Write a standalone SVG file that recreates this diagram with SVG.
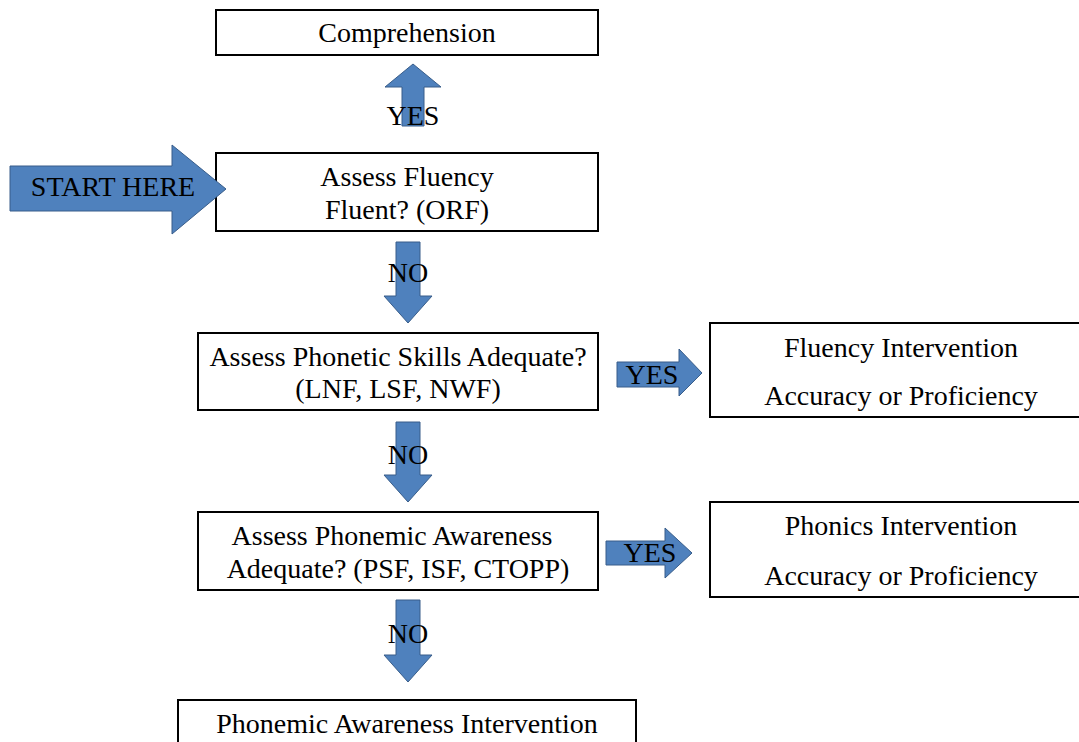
<svg xmlns="http://www.w3.org/2000/svg" width="1079" height="742" viewBox="0 0 1079 742">
<style>
.box{fill:#fff;stroke:#000;stroke-width:2}
.arr{fill:#4F81BD;stroke:#385D8A;stroke-width:1}
text{font-family:"Liberation Serif","Times New Roman",serif;font-size:28px;fill:#000;text-anchor:middle}
</style>
<rect width="1079" height="742" fill="#fff"/>
<g id="comprehension">
<rect class="box" x="216" y="10" width="382" height="45"/>
<text x="407" y="42">Comprehension</text>
</g>
<g id="assess-fluency">
<rect class="box" x="216" y="153" width="382" height="78"/>
<text x="407" y="186">Assess Fluency</text>
<text x="407" y="219">Fluent? (ORF)</text>
</g>
<g id="assess-phonetic">
<rect class="box" x="198" y="333" width="400" height="77"/>
<text x="398" y="366">Assess Phonetic Skills Adequate?</text>
<text x="398" y="398">(LNF, LSF, NWF)</text>
</g>
<g id="fluency-intervention">
<rect class="box" x="710" y="323" width="380" height="94"/>
<text x="901" y="357">Fluency Intervention</text>
<text x="901" y="405">Accuracy or Proficiency</text>
</g>
<g id="assess-phonemic">
<rect class="box" x="198" y="512" width="400" height="78"/>
<text x="392" y="545">Assess Phonemic Awareness</text>
<text x="398" y="578">Adequate? (PSF, ISF, CTOPP)</text>
</g>
<g id="phonics-intervention">
<rect class="box" x="710" y="502" width="380" height="95"/>
<text x="901" y="535">Phonics Intervention</text>
<text x="901" y="585">Accuracy or Proficiency</text>
</g>
<g id="pa-intervention">
<rect class="box" x="178" y="700" width="458" height="60"/>
<text x="407" y="733">Phonemic Awareness Intervention</text>
</g>
<g id="connectors">
<polygon class="arr" points="402,126 424,126 424,87 441,87 413,64 385,87 402,87"/>
<polygon class="arr" points="10,166 172,166 172,145 226,189 172,234 172,211 10,211"/>
<polygon class="arr" points="396,242 420,242 420,296 432,296 408,323 384,296 396,296"/>
<polygon class="arr" points="396,422 420,422 420,475 432,475 408,502 384,475 396,475"/>
<polygon class="arr" points="396,600 420,600 420,655 432,655 408,682 384,655 396,655"/>
<polygon class="arr" points="617,362 679,362 679,349 702,373 679,396 679,387 617,387"/>
<polygon class="arr" points="606,541 665,541 665,528 692,553 665,578 665,565 606,565"/>
<text x="413" y="125">YES</text>
<text x="113" y="196">START HERE</text>
<text x="408" y="282">NO</text>
<text x="408" y="464">NO</text>
<text x="408" y="643">NO</text>
<text x="652" y="384">YES</text>
<text x="650" y="562">YES</text>
</g>
</svg>
